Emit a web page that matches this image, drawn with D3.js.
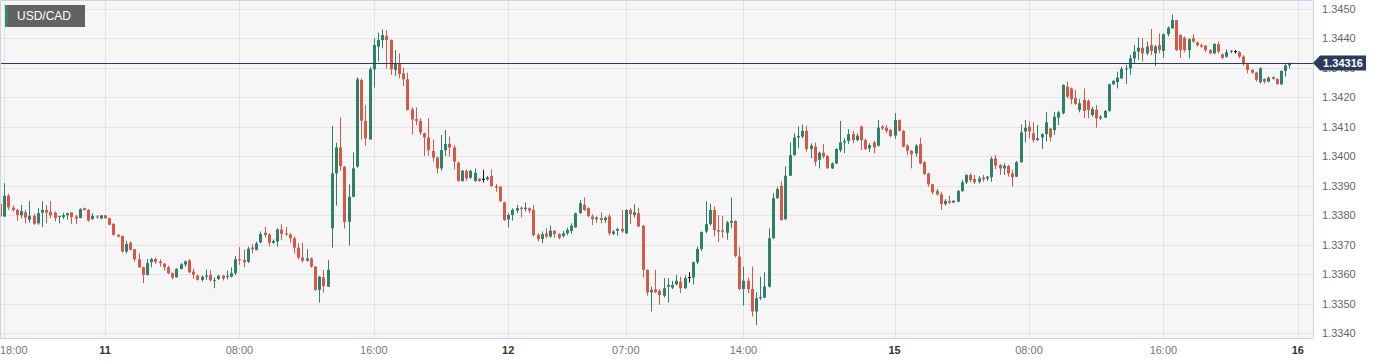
<!DOCTYPE html>
<html><head><meta charset="utf-8">
<script src="https://cdn.jsdelivr.net/npm/d3@7"></script>
<style>html,body{margin:0;padding:0;background:#fff;}svg{display:block;font-family:"Liberation Sans",Arial,sans-serif;}</style>
</head><body><svg id="c" width="1384" height="364"></svg>
<script>
const symbol = "USD/CAD";
const lastPrice = 1.34316;
const priceTicks = [1.3340,1.3350,1.3360,1.3370,1.3380,1.3390,1.3400,1.3410,1.3420,1.3430,1.3440,1.3450];
const timeTickIdx = [1,25,57,89,121,149,177,213,245,277,309];
const timeTickLabels = ["18:00","11","08:00","16:00","12","07:00","14:00","15","08:00","16:00","16"];
const timeTickIsDay = [false,true,false,false,true,false,false,true,false,false,true];

const openP = [
1.33838,1.33796,1.33867,1.33826,1.33818,1.33800,1.33810,1.33785,1.33798,1.33773,
1.33809,1.33818,1.33812,1.33809,1.33796,1.33794,1.33800,1.33810,1.33796,1.33791,
1.33824,1.33818,1.33787,1.33796,1.33789,1.33800,1.33790,1.33771,1.33734,1.33730,
1.33677,1.33708,1.33685,1.33651,1.33624,1.33598,1.33641,1.33652,1.33643,1.33636,
1.33624,1.33604,1.33590,1.33618,1.33633,1.33647,1.33609,1.33596,1.33581,1.33592,
1.33597,1.33578,1.33584,1.33595,1.33592,1.33592,1.33604,1.33651,1.33649,1.33642,
1.33691,1.33683,1.33708,1.33741,1.33735,1.33707,1.33711,1.33752,1.33739,1.33735,
1.33722,1.33690,1.33657,1.33646,1.33654,1.33626,1.33547,1.33590,1.33558,1.33756,
1.33942,1.34030,1.33965,1.33778,1.33863,1.33965,1.34259,1.34120,1.34057,1.34295,
1.34372,1.34394,1.34408,1.34394,1.34293,1.34315,1.34281,1.34261,1.34159,1.34126,
1.34120,1.34078,1.34064,1.34018,1.33996,1.33959,1.34021,1.34042,1.34030,1.33978,
1.33916,1.33951,1.33927,1.33916,1.33924,1.33922,1.33922,1.33933,1.33899,1.33897,
1.33844,1.33786,1.33801,1.33816,1.33826,1.33821,1.33824,1.33818,1.33733,1.33720,
1.33739,1.33728,1.33747,1.33736,1.33730,1.33739,1.33747,1.33759,1.33807,1.33835,
1.33824,1.33796,1.33787,1.33790,1.33784,1.33796,1.33737,1.33748,1.33754,1.33739,
1.33818,1.33801,1.33807,1.33764,1.33615,1.33539,1.33549,1.33544,1.33527,1.33558,
1.33555,1.33566,1.33575,1.33553,1.33589,1.33589,1.33641,1.33686,1.33745,1.33770,
1.33818,1.33750,1.33749,1.33741,1.33775,1.33781,1.33660,1.33550,1.33578,1.33550,
1.33474,1.33519,1.33521,1.33558,1.33722,1.33858,1.33900,1.33787,1.33934,1.34004,
1.34064,1.34067,1.34086,1.34025,1.34033,1.33988,1.34012,1.34001,1.33959,1.33976,
1.34021,1.34047,1.34052,1.34075,1.34055,1.34101,1.34055,1.34027,1.34047,1.34036,
1.34101,1.34097,1.34089,1.34070,1.34123,1.34086,1.34036,1.34019,1.34010,1.34041,
1.33980,1.33942,1.33905,1.33882,1.33871,1.33838,1.33849,1.33843,1.33846,1.33882,
1.33912,1.33937,1.33923,1.33914,1.33928,1.33925,1.33929,1.33993,1.33971,1.33959,
1.33967,1.33942,1.33931,1.33980,1.34084,1.34101,1.34078,1.34055,1.34064,1.34075,
1.34094,1.34089,1.34131,1.34146,1.34236,1.34230,1.34197,1.34157,1.34191,1.34188,
1.34140,1.34157,1.34129,1.34131,1.34154,1.34244,1.34251,1.34264,1.34295,1.34298,
1.34332,1.34355,1.34368,1.34349,1.34377,1.34349,1.34377,1.34357,1.34414,1.34434,
1.34462,1.34411,1.34402,1.34360,1.34400,1.34386,1.34377,1.34375,1.34360,1.34349,
1.34380,1.34346,1.34338,1.34355,1.34355,1.34353,1.34338,1.34312,1.34293,1.34284,
1.34251,1.34262,1.34253,1.34268,1.34262,1.34244,1.34289,1.34308];

const highP = [
1.33841,1.33909,1.33873,1.33834,1.33822,1.33835,1.33818,1.33848,1.33805,1.33824,
1.33847,1.33835,1.33848,1.33813,1.33798,1.33809,1.33809,1.33810,1.33801,1.33824,
1.33826,1.33821,1.33807,1.33801,1.33800,1.33801,1.33792,1.33773,1.33736,1.33731,
1.33713,1.33711,1.33686,1.33671,1.33626,1.33652,1.33655,1.33656,1.33651,1.33638,
1.33629,1.33606,1.33621,1.33638,1.33647,1.33651,1.33618,1.33598,1.33595,1.33616,
1.33615,1.33590,1.33598,1.33598,1.33613,1.33623,1.33662,1.33692,1.33683,1.33694,
1.33702,1.33711,1.33745,1.33761,1.33739,1.33718,1.33756,1.33770,1.33761,1.33739,
1.33728,1.33705,1.33707,1.33685,1.33657,1.33628,1.33594,1.33615,1.33648,1.34103,
1.34046,1.34132,1.33967,1.33905,1.34013,1.34268,1.34264,1.34173,1.34302,1.34400,
1.34419,1.34430,1.34428,1.34396,1.34360,1.34349,1.34300,1.34283,1.34166,1.34166,
1.34129,1.34080,1.34129,1.34057,1.33999,1.34072,1.34089,1.34067,1.34038,1.33982,
1.33954,1.33956,1.33954,1.33959,1.33926,1.33954,1.33933,1.33956,1.33906,1.33899,
1.33846,1.33807,1.33824,1.33835,1.33830,1.33844,1.33827,1.33835,1.33739,1.33745,
1.33756,1.33765,1.33750,1.33739,1.33747,1.33758,1.33773,1.33809,1.33852,1.33861,
1.33827,1.33804,1.33796,1.33810,1.33796,1.33804,1.33750,1.33756,1.33818,1.33821,
1.33824,1.33837,1.33826,1.33767,1.33617,1.33558,1.33615,1.33550,1.33587,1.33587,
1.33578,1.33598,1.33592,1.33596,1.33607,1.33643,1.33694,1.33745,1.33847,1.33839,
1.33830,1.33801,1.33798,1.33781,1.33860,1.33783,1.33692,1.33626,1.33589,1.33626,
1.33539,1.33592,1.33607,1.33756,1.33875,1.33897,1.33915,1.33965,1.34047,1.34078,
1.34101,1.34108,1.34104,1.34044,1.34047,1.34016,1.34042,1.34004,1.33980,1.34027,
1.34120,1.34061,1.34092,1.34086,1.34078,1.34104,1.34059,1.34044,1.34052,1.34123,
1.34106,1.34106,1.34093,1.34146,1.34125,1.34089,1.34041,1.34021,1.34041,1.34063,
1.33984,1.33944,1.33907,1.33889,1.33878,1.33855,1.33867,1.33852,1.33886,1.33920,
1.33939,1.33942,1.33937,1.33933,1.33937,1.33934,1.33999,1.34004,1.33973,1.33976,
1.33971,1.33954,1.33984,1.34108,1.34123,1.34118,1.34115,1.34106,1.34078,1.34150,
1.34097,1.34151,1.34154,1.34244,1.34253,1.34233,1.34225,1.34194,1.34230,1.34193,
1.34168,1.34174,1.34140,1.34157,1.34246,1.34259,1.34287,1.34304,1.34310,1.34344,
1.34377,1.34402,1.34400,1.34389,1.34432,1.34377,1.34417,1.34417,1.34440,1.34481,
1.34462,1.34414,1.34406,1.34400,1.34414,1.34389,1.34383,1.34377,1.34363,1.34383,
1.34389,1.34349,1.34363,1.34360,1.34360,1.34357,1.34343,1.34314,1.34295,1.34287,
1.34302,1.34264,1.34270,1.34271,1.34264,1.34292,1.34312,1.34318];

const lowP = [
1.33779,1.33794,1.33818,1.33813,1.33782,1.33790,1.33773,1.33775,1.33768,1.33768,
1.33760,1.33773,1.33790,1.33779,1.33773,1.33787,1.33785,1.33771,1.33771,1.33790,
1.33816,1.33779,1.33785,1.33789,1.33787,1.33788,1.33766,1.33731,1.33725,1.33674,
1.33671,1.33681,1.33643,1.33622,1.33570,1.33595,1.33624,1.33635,1.33626,1.33613,
1.33601,1.33583,1.33589,1.33616,1.33626,1.33604,1.33584,1.33579,1.33575,1.33581,
1.33575,1.33553,1.33581,1.33579,1.33583,1.33589,1.33597,1.33632,1.33624,1.33638,
1.33671,1.33681,1.33705,1.33725,1.33694,1.33703,1.33694,1.33716,1.33730,1.33707,
1.33671,1.33651,1.33639,1.33643,1.33622,1.33544,1.33504,1.33538,1.33558,1.33690,
1.33833,1.33951,1.33755,1.33697,1.33861,1.33961,1.34057,1.34036,1.34057,1.34233,
1.34321,1.34366,1.34298,1.34276,1.34272,1.34264,1.34238,1.34155,1.34074,1.34106,
1.34072,1.34002,1.34002,1.33982,1.33942,1.33951,1.34001,1.33999,1.33956,1.33914,
1.33914,1.33917,1.33924,1.33914,1.33913,1.33911,1.33917,1.33897,1.33880,1.33846,
1.33781,1.33759,1.33782,1.33807,1.33793,1.33813,1.33807,1.33728,1.33711,1.33705,
1.33722,1.33724,1.33724,1.33719,1.33724,1.33733,1.33737,1.33758,1.33805,1.33815,
1.33793,1.33767,1.33775,1.33773,1.33775,1.33731,1.33733,1.33731,1.33741,1.33736,
1.33770,1.33792,1.33761,1.33589,1.33528,1.33474,1.33536,1.33496,1.33521,1.33504,
1.33550,1.33562,1.33536,1.33550,1.33572,1.33566,1.33634,1.33679,1.33739,1.33765,
1.33728,1.33709,1.33724,1.33717,1.33756,1.33657,1.33547,1.33494,1.33536,1.33457,
1.33428,1.33513,1.33519,1.33555,1.33720,1.33856,1.33781,1.33784,1.33934,1.34002,
1.34027,1.34061,1.34016,1.33993,1.33968,1.33959,1.33993,1.33959,1.33957,1.33973,
1.34014,1.34010,1.34041,1.34044,1.34050,1.34021,1.34021,1.34014,1.34010,1.34033,
1.34089,1.34078,1.34064,1.34059,1.34084,1.34030,1.34004,1.33959,1.33999,1.33973,
1.33937,1.33897,1.33871,1.33867,1.33818,1.33833,1.33838,1.33843,1.33846,1.33880,
1.33906,1.33912,1.33906,1.33908,1.33914,1.33917,1.33914,1.33957,1.33937,1.33937,
1.33931,1.33897,1.33929,1.33978,1.34047,1.34061,1.34047,1.34052,1.34025,1.34050,
1.34050,1.34072,1.34106,1.34142,1.34197,1.34176,1.34174,1.34149,1.34129,1.34129,
1.34134,1.34097,1.34123,1.34131,1.34151,1.34242,1.34230,1.34262,1.34245,1.34276,
1.34315,1.34327,1.34321,1.34343,1.34343,1.34306,1.34349,1.34334,1.34406,1.34432,
1.34357,1.34334,1.34353,1.34332,1.34385,1.34372,1.34368,1.34353,1.34346,1.34346,
1.34349,1.34330,1.34334,1.34349,1.34348,1.34332,1.34307,1.34281,1.34279,1.34253,
1.34247,1.34247,1.34251,1.34260,1.34242,1.34242,1.34270,1.34298];

const closeP = [
1.33796,1.33866,1.33827,1.33818,1.33801,1.33814,1.33792,1.33798,1.33771,1.33807,
1.33818,1.33809,1.33800,1.33791,1.33798,1.33801,1.33807,1.33794,1.33789,1.33821,
1.33818,1.33782,1.33798,1.33792,1.33800,1.33790,1.33768,1.33734,1.33728,1.33677,
1.33703,1.33683,1.33651,1.33624,1.33598,1.33638,1.33652,1.33642,1.33638,1.33624,
1.33604,1.33589,1.33618,1.33634,1.33644,1.33607,1.33598,1.33581,1.33592,1.33596,
1.33580,1.33580,1.33595,1.33586,1.33595,1.33604,1.33651,1.33647,1.33641,1.33687,
1.33685,1.33705,1.33737,1.33733,1.33707,1.33713,1.33752,1.33737,1.33735,1.33722,
1.33690,1.33657,1.33646,1.33654,1.33626,1.33547,1.33592,1.33560,1.33615,1.33942,
1.34030,1.33967,1.33778,1.33863,1.33959,1.34261,1.34121,1.34061,1.34295,1.34377,
1.34394,1.34411,1.34394,1.34295,1.34315,1.34279,1.34261,1.34157,1.34125,1.34120,
1.34081,1.34064,1.34021,1.33996,1.33959,1.34021,1.34042,1.34030,1.33982,1.33916,
1.33951,1.33925,1.33951,1.33944,1.33917,1.33922,1.33929,1.33899,1.33894,1.33848,
1.33784,1.33801,1.33818,1.33824,1.33821,1.33826,1.33816,1.33733,1.33719,1.33736,
1.33728,1.33748,1.33736,1.33724,1.33739,1.33750,1.33765,1.33807,1.33841,1.33818,
1.33798,1.33787,1.33792,1.33784,1.33792,1.33739,1.33745,1.33754,1.33745,1.33818,
1.33804,1.33810,1.33762,1.33615,1.33539,1.33547,1.33539,1.33530,1.33553,1.33564,
1.33564,1.33578,1.33553,1.33587,1.33589,1.33641,1.33686,1.33743,1.33770,1.33818,
1.33750,1.33745,1.33744,1.33776,1.33781,1.33662,1.33550,1.33578,1.33550,1.33474,
1.33519,1.33523,1.33558,1.33722,1.33858,1.33889,1.33784,1.33934,1.34004,1.34064,
1.34069,1.34086,1.34025,1.34036,1.33982,1.34012,1.33999,1.33959,1.33976,1.34025,
1.34047,1.34052,1.34075,1.34055,1.34070,1.34055,1.34025,1.34038,1.34030,1.34097,
1.34095,1.34086,1.34069,1.34123,1.34086,1.34033,1.34019,1.34007,1.34036,1.33976,
1.33940,1.33905,1.33878,1.33871,1.33838,1.33849,1.33843,1.33849,1.33882,1.33912,
1.33937,1.33920,1.33912,1.33925,1.33922,1.33931,1.33991,1.33968,1.33959,1.33968,
1.33942,1.33929,1.33980,1.34081,1.34097,1.34084,1.34055,1.34061,1.34075,1.34115,
1.34065,1.34134,1.34149,1.34242,1.34202,1.34194,1.34177,1.34180,1.34154,1.34157,
1.34160,1.34129,1.34134,1.34154,1.34244,1.34255,1.34267,1.34296,1.34298,1.34332,
1.34355,1.34368,1.34349,1.34372,1.34357,1.34372,1.34360,1.34414,1.34436,1.34462,
1.34360,1.34360,1.34360,1.34397,1.34389,1.34377,1.34372,1.34360,1.34349,1.34381,
1.34355,1.34334,1.34353,1.34358,1.34355,1.34338,1.34312,1.34293,1.34284,1.34259,
1.34298,1.34253,1.34267,1.34262,1.34245,1.34289,1.34308,1.34316];

const candles = openP.map((o, i) => ({i, o, h: highP[i], l: lowP[i], c: closeP[i]}));

const W = 1384, H = 364;
const plotR = 1313, plotB = 338;
const UP = "#2f8068", DOWN = "#d6584a", DOJI = "#111";

const svg = d3.select("#c");
const x = d3.scaleLinear().domain([0, 309]).range([0, 1297.8]);
const y = d3.scaleLinear().domain([1.3340, 1.3450]).range([333.3, 8.8]);
const crisp = v => Math.round(v) + 0.5;

svg.append("rect").attr("x", 0).attr("y", 0).attr("width", plotR).attr("height", plotB).attr("fill", "#f6f6f6");

svg.append("defs").append("clipPath").attr("id", "plotclip")
  .append("rect").attr("x", 1).attr("y", 1).attr("width", plotR - 1).attr("height", plotB - 1);

const grid = svg.append("g");
grid.selectAll("line.h").data(priceTicks).join("line")
  .attr("x1", 0).attr("x2", plotR).attr("y1", d => crisp(y(d))).attr("y2", d => crisp(y(d)))
  .attr("stroke", "#e3e3e3").attr("stroke-width", 1);
grid.selectAll("line.v").data(timeTickIdx).join("line")
  .attr("y1", 0).attr("y2", plotB).attr("x1", d => crisp(x(d))).attr("x2", d => crisp(x(d)))
  .attr("stroke", "#e3e3e3").attr("stroke-width", 1);

const cg = svg.append("g").attr("clip-path", "url(#plotclip)");
const col = d => d.c > d.o ? UP : (d.c < d.o ? DOWN : DOJI);
cg.selectAll("line.w").data(candles).join("line")
  .attr("x1", d => crisp(x(d.i))).attr("x2", d => crisp(x(d.i)))
  .attr("y1", d => y(d.h)).attr("y2", d => y(d.l))
  .attr("stroke", col).attr("stroke-width", 1);
cg.selectAll("rect.b").data(candles).join("rect")
  .attr("x", d => crisp(x(d.i)) - 1.5).attr("width", 3)
  .attr("y", d => d.o === d.c ? y(d.o) - 0.5 : Math.min(y(d.o), y(d.c)))
  .attr("height", d => Math.max(1, Math.abs(y(d.o) - y(d.c))))
  .attr("fill", col);

svg.append("line").attr("x1", 0).attr("x2", plotR)
  .attr("y1", crisp(y(lastPrice))).attr("y2", crisp(y(lastPrice)))
  .attr("stroke", "#2b3d5c").attr("stroke-width", 1);

svg.append("path").attr("d", `M0.5,0.5H${plotR + 0.5}V${plotB + 0.5}H0.5Z`)
  .attr("fill", "none").attr("stroke", "#ccd3e3").attr("stroke-width", 1);

svg.append("g").selectAll("text").data(priceTicks).join("text")
  .attr("x", 1322).attr("y", d => y(d)).attr("dy", "0.36em")
  .attr("font-size", 11).attr("fill", "#666").text(d => d.toFixed(4));

const ly = y(lastPrice);
svg.append("path")
  .attr("d", `M1313,${ly} L1320,${ly - 7.5} H1366 V${ly + 7.5} H1320 Z`)
  .attr("fill", "#2b3d5c");
svg.append("text").attr("x", 1343).attr("y", ly).attr("dy", "0.36em")
  .attr("text-anchor", "middle").attr("font-size", 11).attr("font-weight", "bold")
  .attr("fill", "#fff").text(lastPrice.toFixed(5));

const xl = svg.append("g").selectAll("text").data(timeTickIdx).join("text")
  .attr("y", 350).attr("dy", "0.36em").attr("text-anchor", "middle")
  .attr("font-size", 11)
  .attr("font-weight", (d, i) => timeTickIsDay[i] ? "bold" : "normal")
  .attr("fill", (d, i) => timeTickIsDay[i] ? "#333" : "#777")
  .text((d, i) => timeTickLabels[i]);
xl.each(function(d) {
  const w = this.getComputedTextLength();
  d3.select(this).attr("x", Math.max(w / 2, x(d)));
});

const sg = svg.append("g");
sg.append("rect").attr("x", 5).attr("y", 5).attr("width", 80).attr("height", 22).attr("fill", "#626262");
sg.append("rect").attr("x", 5).attr("y", 5).attr("width", 3).attr("height", 22).attr("fill", "#2f8a6e");
sg.append("text").attr("x", 17).attr("y", 16).attr("dy", "0.36em")
  .attr("font-size", 12).attr("fill", "#fff").text(symbol);
</script>
</body></html>
